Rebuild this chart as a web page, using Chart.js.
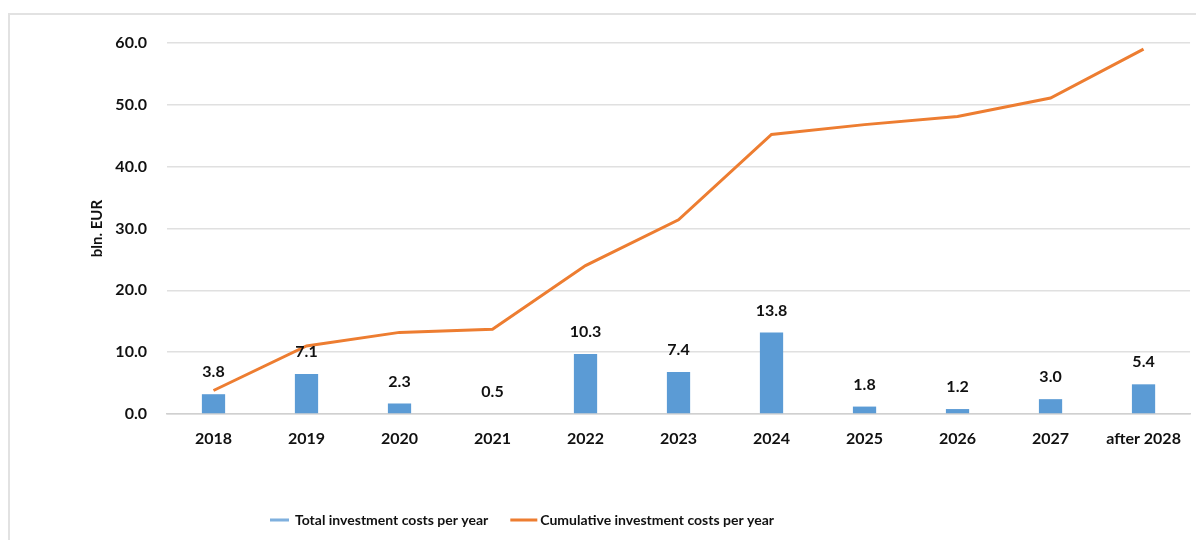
<!DOCTYPE html>
<html>
<head>
<meta charset="UTF-8">
<title>Investment costs</title>
<script src="https://cdn.jsdelivr.net/npm/chart.js@4/dist/chart.umd.min.js"></script>
<style>
  body { margin: 0; background: #fff; }
  #frame { position: absolute; left: 8px; top: 13px; width: 1200px; height: 540px;
           border-left: 2px solid #e2e2e2; border-top: 2px solid #e2e2e2; }
  #wrap { position: absolute; left: 0; top: 0; width: 1196px; height: 540px; }
</style>
</head>
<body>
<div id="frame"></div>
<div id="wrap"><canvas id="grafica" width="1196" height="540"></canvas></div>
<script>
var years = ['2018', '2019', '2020', '2021', '2022', '2023', '2024', '2025', '2026', '2027', 'after 2028'];
// bar heights as drawn in the picture
var totalCosts = [3.2, 6.45, 1.7, 0, 9.7, 6.8, 13.2, 1.2, 0.8, 2.4, 4.8];
// value labels printed above the bars
var totalLabels = ['3.8', '7.1', '2.3', '0.5', '10.3', '7.4', '13.8', '1.8', '1.2', '3.0', '5.4'];
var cumulative = [3.8, 11.0, 13.2, 13.7, 24.0, 31.4, 45.2, 46.8, 48.1, 51.1, 59.0];
var yTicks = [0, 10, 20, 30, 40, 50, 60];

var fnt = 'Lato, "Open Sans", sans-serif';

var barLabels = {
  id: 'barLabels',
  afterDatasetsDraw: function(chart) {
    var ctx = chart.ctx;
    var meta = chart.getDatasetMeta(1);
    ctx.save();
    ctx.font = 'bold 16px ' + fnt;
    ctx.fillStyle = '#111';
    ctx.textAlign = 'center';
    ctx.textBaseline = 'middle';
    meta.data.forEach(function(bar, i) {
      ctx.fillText(totalLabels[i], bar.x, bar.y - 22);
    });
    ctx.restore();
  }
};

// legend drawn by hand, Excel style, bar series first
var bottomLegend = {
  id: 'bottomLegend',
  afterDraw: function(chart) {
    var ctx = chart.ctx;
    var ds = chart.data.datasets;
    var items = [ds[1], ds[0]];
    var x = 270, y = 520;
    ctx.save();
    ctx.font = 'bold 14px ' + fnt;
    ctx.textBaseline = 'middle';
    items.forEach(function(d, i) {
      var mw = i == 0 ? 19 : 27;
      ctx.fillStyle = i == 0 ? '#7FB0DE' : d.borderColor;
      ctx.fillRect(x, y - 1.5, mw, 3);
      x += mw + (i == 0 ? 6 : 3);
      ctx.fillStyle = '#111';
      ctx.fillText(d.label, x, y);
      x += ctx.measureText(d.label).width + 22;
    });
    ctx.restore();
  }
};

var chart = new Chart(document.getElementById('grafica').getContext('2d'), {
  data: {
    labels: years,
    datasets: [
      {
        type: 'line',
        label: 'Cumulative investment costs per year',
        data: cumulative,
        borderColor: '#ED7D31',
        backgroundColor: '#ED7D31',
        borderWidth: 3,
        pointRadius: 0,
        tension: 0,
        order: 0
      },
      {
        type: 'bar',
        label: 'Total investment costs per year',
        data: totalCosts,
        backgroundColor: '#5B9BD5',
        borderWidth: 0,
        barPercentage: 0.5,
        categoryPercentage: 0.5,
        order: 1
      }
    ]
  },
  options: {
    responsive: false,
    animation: false,
    layout: { padding: { top: 43, right: 2, bottom: 0, left: 84 } },
    plugins: {
      tooltip: { enabled: false },
      legend: { display: false }
    },
    scales: {
      x: {
        grid: { display: false, drawTicks: false },
        border: { color: '#d0d0d0', width: 1.5 },
        ticks: { color: '#111', font: { family: fnt, size: 16, weight: 'bold' }, padding: 15, maxRotation: 0 },
        afterFit: function(s) { s.height = 126; }
      },
      y: {
        min: 0,
        max: 60,
        afterBuildTicks: function(s) { s.ticks = yTicks.map(function(v) { return { value: v }; }); },
        grid: { color: '#e0e0e0', lineWidth: 1.5, drawTicks: false },
        border: { display: false },
        ticks: {
          color: '#111',
          font: { family: fnt, size: 16, weight: 'bold' },
          padding: 20,
          callback: function(v) { return v.toFixed(1); }
        },
        title: {
          display: true,
          text: 'bln. EUR',
          color: '#111',
          font: { family: fnt, size: 15, weight: 'bold' }
        },
        afterFit: function(s) { s.width = 83; }
      }
    }
  },
  plugins: [barLabels, bottomLegend]
});
</script>
</body>
</html>
